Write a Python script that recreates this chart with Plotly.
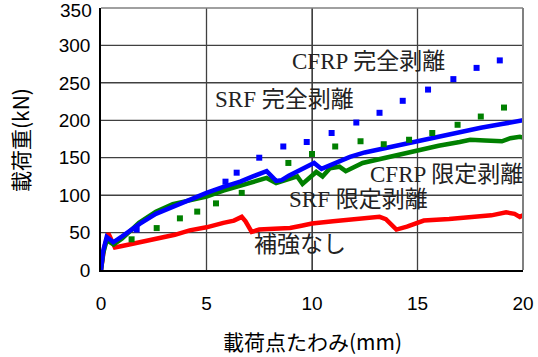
import plotly.graph_objects as go

# ---- data (deflection mm, load kN) ----
red_x = [0, 0.15, 0.35, 0.5, 0.66, 1.0, 1.5, 2.0, 2.9, 3.5, 4.2, 5.0, 5.8, 6.3, 6.67, 6.85, 7.14, 7.5, 8.2, 8.96,
         9.5, 10.0, 11.0, 12.0, 12.8, 13.2, 13.5, 13.8, 14.0, 14.5, 15.3, 16.5, 17.5, 18.5, 19.2, 19.6, 19.85, 20.0]
red_y = [0, 30, 49, 38, 30, 32, 35, 38, 42, 47, 53, 57, 63, 66, 71, 65, 51, 54, 55, 56,
         59, 62, 65, 68, 70, 71, 68, 60, 54, 58, 66, 68, 71, 73, 77, 75, 71, 73]

blue_x = [0, 0.1, 0.27, 0.45, 0.58, 1.0, 1.85, 2.6, 3.43, 4.2, 5.0, 5.8, 6.6, 7.2, 7.85, 8.3, 8.56, 8.9, 9.5,
          10.1, 10.45, 11.0, 11.8, 12.5, 13.5, 14.3, 15.1, 16.0, 17.0, 18.0, 19.0, 19.86, 20.0]
blue_y = [0, 25, 44, 40, 37, 45, 62, 75, 85, 94, 103, 111, 118, 125, 132, 119, 120, 126, 134,
          143, 135, 141, 151, 157, 163, 168, 174, 179, 185, 190, 195, 199, 200]

green_x = [0, 0.1, 0.27, 0.45, 0.6, 1.0, 1.8, 2.6, 3.4, 4.2, 5.0, 5.8, 6.6, 7.3, 7.85, 8.3, 8.9, 9.3, 9.55,
           10.0, 10.2, 10.5, 10.85, 11.3, 11.6, 12.4, 13.2, 14.0, 15.1, 16.0, 17.0, 17.5, 18.2, 19.0, 19.4, 19.85, 20.0]
green_y = [0, 22, 40, 37, 34, 42, 63, 78, 88, 93, 98, 106, 113, 119, 123, 116, 122, 125, 115,
           126, 131, 125, 136, 138, 132, 143, 148, 153, 161, 166, 171, 174, 173, 172, 176, 178, 177]

blue_dot_x = [1.69, 5.9, 6.43, 7.5, 8.64, 9.75, 10.93, 12.1, 13.2, 14.3, 15.5, 16.7, 17.8, 18.9]
blue_dot_y = [54, 118, 130, 150, 165, 171, 183, 197, 210, 226, 241, 255, 270, 280]

green_dot_x = [1.45, 2.64, 3.74, 4.56, 5.45, 6.67, 8.88, 10.0, 11.1, 12.3, 13.4, 14.6, 15.7, 16.9, 18.0, 19.1]
green_dot_y = [41, 56, 69, 78, 89, 103, 143, 155, 165, 172, 168, 174, 183, 194, 205, 217]

labels = ["CFRP 完全剥離", "SRF 完全剥離", "CFRP 限定剥離", "SRF 限定剥離", "補強なし"]
label_x = [8.96, 5.3, 12.65, 8.8, 7.14]
label_y = [279, 228, 127, 94, 33.5]

x_ticks = [0, 5, 10, 15, 20]
y_ticks = [0, 50, 100, 150, 200, 250, 300, 350]

fig = go.Figure()

# grid lines built from the tick arrays, drawn first so they sit under the data
gx, gy = [], []
for yv in y_ticks[1:-1]:
    gx += [x_ticks[0], x_ticks[-1], None]
    gy += [yv, yv, None]
for xv in x_ticks[1:-1]:
    gx += [xv, xv, None]
    gy += [y_ticks[0], y_ticks[-1], None]
fig.add_trace(go.Scatter(x=gx, y=gy, mode="lines", line=dict(color="rgb(64,64,64)", width=1.3),
                         hoverinfo="skip", name="grid"))

fig.add_trace(go.Scatter(x=red_x, y=red_y, mode="lines", line=dict(color="#FF0000", width=4.5), name="補強なし"))
fig.add_trace(go.Scatter(x=green_x, y=green_y, mode="lines", line=dict(color="#008000", width=4.5), name="SRF"))
fig.add_trace(go.Scatter(x=blue_x, y=blue_y, mode="lines", line=dict(color="#0000FF", width=4.5), name="CFRP"))
fig.add_trace(go.Scatter(x=blue_dot_x, y=blue_dot_y, mode="markers",
                         marker=dict(symbol="square", size=6, color="#0000FF"), name="CFRP 完全剥離"))
fig.add_trace(go.Scatter(x=green_dot_x, y=green_dot_y, mode="markers",
                         marker=dict(symbol="square", size=6, color="#008000"), name="SRF 完全剥離"))

serif = "Liberation Serif, Noto Sans CJK JP, serif"
for t, xx, yy in zip(labels, label_x, label_y):
    fig.add_annotation(x=xx, y=yy, text=t, showarrow=False, xanchor="left", yanchor="middle",
                       font=dict(family=serif, size=23, color="#222222"))

sans = "Noto Sans CJK JP, Liberation Sans, sans-serif"
fig.add_annotation(xref="paper", yref="paper", x=-0.192, y=0.496, text="載荷重(kN)", textangle=-90,
                   xanchor="center", yanchor="middle",
                   showarrow=False, font=dict(family=sans, size=21, color="black"))
fig.add_annotation(xref="paper", yref="paper", x=0.502, y=-0.271, text="載荷点たわみ(mm)",
                   xanchor="center", yanchor="middle",
                   showarrow=False, font=dict(family=sans, size=21, color="black"))
# top tick label (plotly hides it because it reaches the page edge)
fig.add_annotation(xref="paper", yref="y", x=0, y=y_ticks[-1], text=str(y_ticks[-1]), xanchor="right",
                   yanchor="middle", xshift=-7, yshift=-2, showarrow=False,
                   font=dict(family="Liberation Sans, Arial", size=19, color="black"))

fig.update_layout(
    template="none",
    width=538, height=357, margin=dict(l=101, r=15, t=8, b=87, autoexpand=False),
    paper_bgcolor="white", plot_bgcolor="white", showlegend=False,
)
fig.update_xaxes(range=[0, 20], tickvals=x_ticks, ticks="outside", ticklen=15, tickcolor="white", tickwidth=1,
                 showline=True, linecolor="black", linewidth=1.5,
                 showgrid=True, gridcolor="rgb(64,64,64)", gridwidth=1,
                 tickfont=dict(family="Liberation Sans, Arial", size=19, color="black"))
fig.update_yaxes(range=[0, 350], tickvals=y_ticks, ticks="outside", ticklen=5, tickcolor="white", tickwidth=1,
                 showline=True, linecolor="black", linewidth=1.5,
                 showgrid=True, gridcolor="rgb(64,64,64)", gridwidth=1,
                 tickfont=dict(family="Liberation Sans, Arial", size=19, color="black"))

# top and right grey border
fig.add_shape(type="line", xref="paper", yref="paper", x0=0, x1=1, y0=1, y1=1, line=dict(color="gray", width=1.5))
fig.add_shape(type="line", xref="paper", yref="paper", x0=1, x1=1, y0=0, y1=1, line=dict(color="gray", width=2))

fig.write_html("out.html", post_script="document.body.style.margin='0';", config={"displayModeBar": False})
